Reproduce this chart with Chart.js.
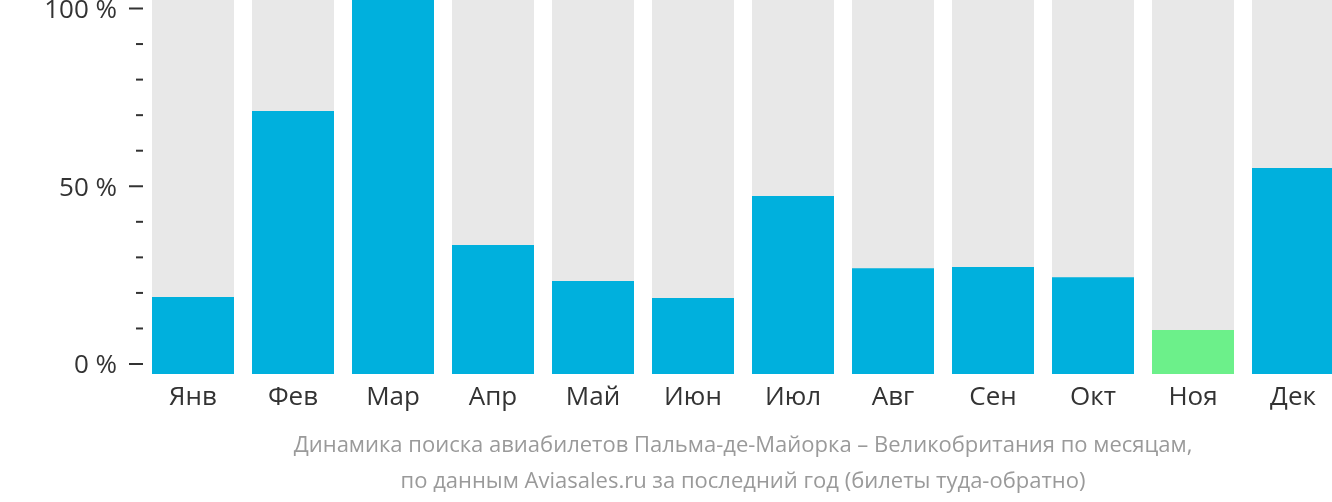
<!DOCTYPE html>
<html>
<head>
<meta charset="utf-8">
<script src="https://cdn.jsdelivr.net/npm/chart.js@4/dist/chart.umd.min.js"></script>
<style>
    html, body { margin: 0; padding: 0; background: #fff; overflow: hidden; }
    #wrap { width: 1343px; height: 502px; position: relative; }
</style>
</head>
<body>
<div id="wrap"><canvas id="chart"></canvas></div>
<script>
// Months and search share (% of the busiest month)
const months = ['Янв', 'Фев', 'Мар', 'Апр', 'Май', 'Июн', 'Июл', 'Авг', 'Сен', 'Окт', 'Ноя', 'Дек'];
const searchShare = [20.6, 70.3, 100, 34.5, 24.9, 20.3, 47.6, 28.3, 28.6, 25.9, 11.8, 55.1];
const trackValues = [100, 100, 100, 100, 100, 100, 100, 100, 100, 100, 100, 100];

// Y axis ticks
const majorTicks = [0, 50, 100];
const minorTicks = [10, 20, 30, 40, 60, 70, 80, 90];

const titleLines = [
    'Динамика поиска авиабилетов Пальма-де-Майорка – Великобритания по месяцам,',
    'по данным Aviasales.ru за последний год (билеты туда-обратно)'
];

const BLUE = '#00b0dd';
const GREEN = '#6cf08a';
const TRACK = '#e8e8e8';
const TEXT = '#333333';

// Draw short tick marks on the left axis
const tickMarks = {
    id: 'tickMarks',
    afterDraw(chart) {
        const scale = chart.scales.yTicks;
        const ctx = chart.ctx;
        const right = chart.chartArea.left;
        ctx.save();
        ctx.strokeStyle = TEXT;
        ctx.lineWidth = 2;
        function mark(value, len) {
            const y = scale.getPixelForValue(value);
            ctx.beginPath();
            ctx.moveTo(right - len, y);
            ctx.lineTo(right, y);
            ctx.stroke();
        }
        majorTicks.forEach(v => mark(v, 14));
        minorTicks.forEach(v => mark(v, 7));
        ctx.restore();
    }
};

document.addEventListener('DOMContentLoaded', function() {
    const lowest = Math.min(...searchShare);
    const ctx = document.getElementById('chart').getContext('2d');

    new Chart(ctx, {
        type: 'bar',
        data: {
            labels: months,
            datasets: [{
                data: searchShare,
                backgroundColor: c => c.raw === lowest ? GREEN : BLUE,
                grouped: false,
                barPercentage: 0.82,
                categoryPercentage: 1,
                yAxisID: 'y',
                order: 0
            }, {
                data: trackValues,
                backgroundColor: TRACK,
                grouped: false,
                barPercentage: 0.82,
                categoryPercentage: 1,
                yAxisID: 'y',
                order: 1
            }]
        },
        options: {
            responsive: true,
            maintainAspectRatio: false,
            animation: false,
            layout: { padding: 0 },
            plugins: {
                legend: { display: false },
                tooltip: { enabled: false },
                title: {
                    display: true,
                    position: 'bottom',
                    fullSize: false,
                    text: titleLines,
                    color: '#9a9a9a',
                    font: { family: 'Open Sans', size: 22, weight: 'normal', lineHeight: 1.636 },
                    padding: { top: 14, bottom: 2 }
                }
            },
            scales: {
                x: {
                    offset: true,
                    grid: { display: false, drawTicks: false },
                    border: { display: false },
                    ticks: {
                        color: TEXT,
                        font: { family: 'Open Sans', size: 26 },
                        padding: 8,
                        maxRotation: 0,
                        autoSkip: false
                    },
                    afterFit(s) {
                        s.height = 40;
                        s.paddingLeft = 0;
                        s.paddingRight = 0;
                    }
                },
                y: {
                    display: false,
                    min: 0,
                    max: 100
                },
                yTicks: {
                    position: 'left',
                    min: -2.81,
                    max: 102.39,
                    grid: { display: false, drawTicks: false },
                    border: { display: false },
                    ticks: {
                        color: TEXT,
                        font: { family: 'Open Sans', size: 26 },
                        padding: 26,
                        labelOffset: 2,
                        callback: v => v + ' %'
                    },
                    afterBuildTicks(s) {
                        s.ticks = majorTicks.map(v => ({ value: v }));
                    },
                    afterFit(s) {
                        s.width = 143;
                        s.paddingTop = 0;
                        s.paddingBottom = 0;
                    }
                }
            }
        },
        plugins: [tickMarks]
    });
});
</script>
</body>
</html>
